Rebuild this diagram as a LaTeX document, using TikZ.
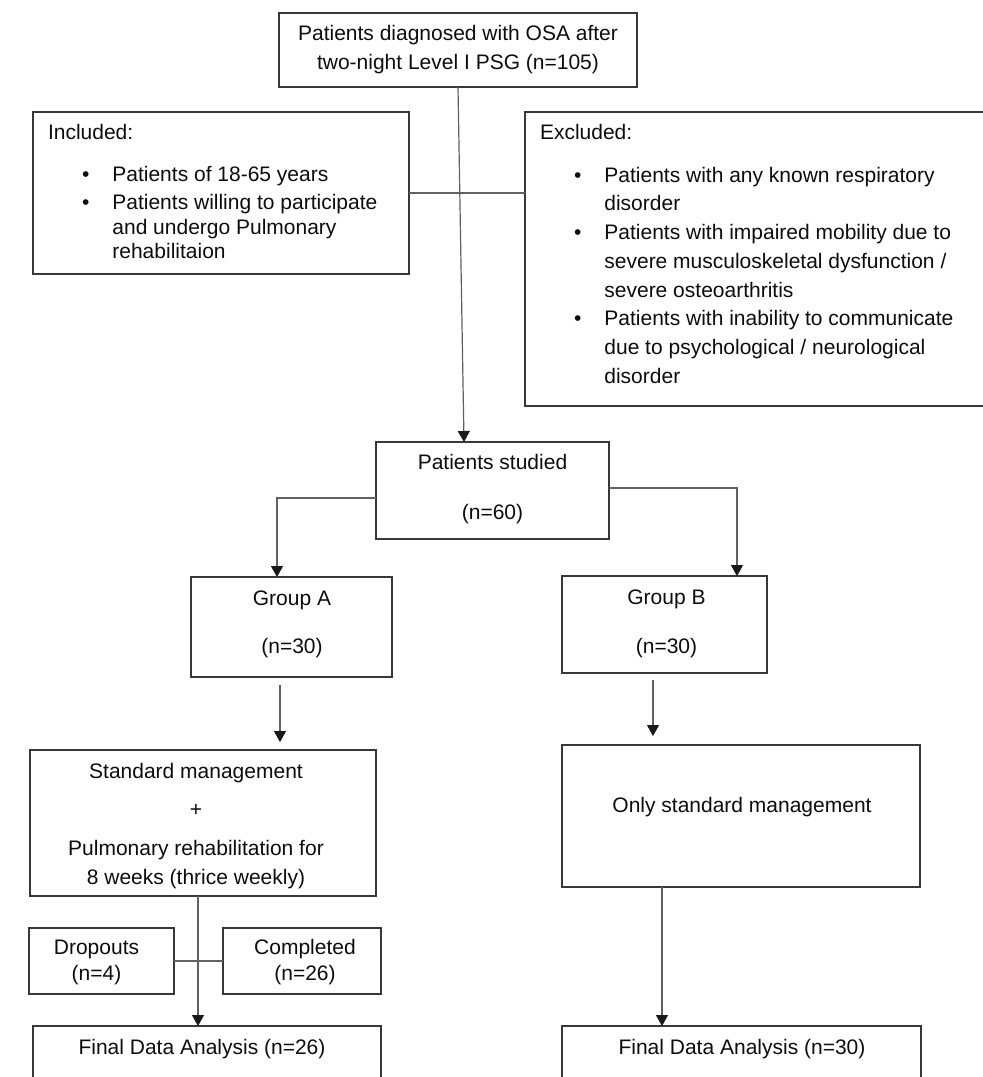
\documentclass[tikz,border=0pt]{standalone}
\usepackage{fontspec}
\setmainfont{Liberation Sans}
\usetikzlibrary{arrows.meta}
\newcommand{\mybul}{\hspace*{34pt}\makebox[30.4pt][l]{•}}
\newcommand{\myind}{\hspace*{64.4pt}}
\newcommand{\tstrut}{\rule{0pt}{18pt}}
\begin{document}
\begin{tikzpicture}[x=1pt,y=-1pt,
  box/.style={draw=black!78, line width=1.4pt, rectangle, inner sep=0pt, outer sep=0pt},
  txt/.style={inner sep=0pt, outer sep=0pt, text=black!95, font=\fontsize{21}{29}\selectfont},
  conn/.style={draw=black!62, line width=1.2pt},
  arr/.style={conn, -{Triangle[width=12pt,length=11pt,black!90]}}]
\fill[white] (0,0) rectangle (983,1077);
\useasboundingbox (0,0) rectangle (983,1077);
% boxes
\node[box, minimum width=358pt, minimum height=74pt] (top) at (458,50) {};
\node[box, minimum width=376pt, minimum height=162pt] (inc) at (221,193) {};
\node[box, minimum width=470pt, minimum height=294pt] (exc) at (760,259) {};
\node[box, minimum width=233pt, minimum height=97pt] (ps) at (492.5,490.5) {};
\node[box, minimum width=201pt, minimum height=100pt] (ga) at (291.5,627) {};
\node[box, minimum width=205pt, minimum height=97pt] (gb) at (664.5,624.5) {};
\node[box, minimum width=346pt, minimum height=146pt] (std) at (203,823) {};
\node[box, minimum width=358pt, minimum height=142pt] (only) at (741,816) {};
\node[box, minimum width=145pt, minimum height=66pt] (drop) at (101.5,961) {};
\node[box, minimum width=158pt, minimum height=66pt] (comp) at (302,961) {};
\node[box, minimum width=348pt, minimum height=74pt] (fa) at (207,1063) {};
\node[box, minimum width=359pt, minimum height=74pt] (fb) at (741.5,1063) {};
% texts
\node[txt, anchor=north, align=center] (ttop) at (458,22.5) {\tstrut Patients diagnosed with OSA after\\two-night Level I PSG (n=105)};
\node[txt, anchor=north west, align=left, font=\fontsize{21}{25}\selectfont] (tinc) at (48,121.5) {\tstrut Included:\\[17pt]\mybul Patients of 18-65 years\\[3pt]\mybul Patients willing to participate\\\myind and undergo Pulmonary\\[-1pt]\myind rehabilitaion};
\node[txt, anchor=north west, align=left, font=\fontsize{21}{28.7}\selectfont] (texc) at (540,121.5) {\tstrut Excluded:\\[14pt]\mybul Patients with any known respiratory\\\myind disorder\\\mybul Patients with impaired mobility due to\\\myind severe musculoskeletal dysfunction /\\\myind severe osteoarthritis\\\mybul Patients with inability to communicate\\\myind due to psychological / neurological\\\myind disorder};
\node[txt, anchor=north, align=center] (tps) at (492.5,451.5) {\tstrut Patients studied\\[21pt](n=60)};
\node[txt, anchor=north, align=center] (tga) at (292,587.5) {\tstrut Group A\\[19pt](n=30)};
\node[txt, anchor=north, align=center] (tgb) at (666.5,586.5) {\tstrut Group B\\[20pt](n=30)};
\node[txt, anchor=north, align=center] (tstd) at (196,760.5) {\tstrut Standard management\\[9pt]+\\[10pt]Pulmonary rehabilitation for\\8 weeks (thrice weekly)};
\node[txt, anchor=base] (tonly) at (742,812.5) {Only standard management};
\node[txt, anchor=north, align=center] (tdrop) at (96.5,936.5) {\tstrut Dropouts\\[-3pt](n=4)};
\node[txt, anchor=north, align=center] (tcomp) at (305,936.5) {\tstrut Completed\\[-3pt](n=26)};
\node[txt, anchor=base] (tfa) at (202,1054.5) {Final Data Analysis (n=26)};
\node[txt, anchor=base] (tfb) at (742,1054.5) {Final Data Analysis (n=30)};
% connectors
\coordinate (psin) at (464,442);
\draw[arr] (top.south) -- (psin);
\draw[conn] (inc.east) -- (inc.east -| exc.west);
\coordinate (psl) at (ps.west |- 0,498);
\coordinate (gain) at (ga.north -| 277,0);
\draw[arr] (psl) -| (gain);
\coordinate (psr) at (ps.east |- 0,488);
\coordinate (gbin) at (gb.north -| 737,0);
\draw[arr] (psr) -| (gbin);
\draw[arr, shorten <=8pt, shorten >=8pt] (ga.south -| 280,0) -- (std.north -| 280,0);
\draw[arr, shorten <=7pt, shorten >=9pt] (gb.south -| 653,0) -- (only.north -| 653,0);
\draw[arr] (std.south -| 198,0) -- (fa.north -| 198,0);
\draw[conn] (drop.east) -- (comp.west);
\draw[arr] (only.south -| 662,0) -- (fb.north -| 662,0);
\end{tikzpicture}
\end{document}
